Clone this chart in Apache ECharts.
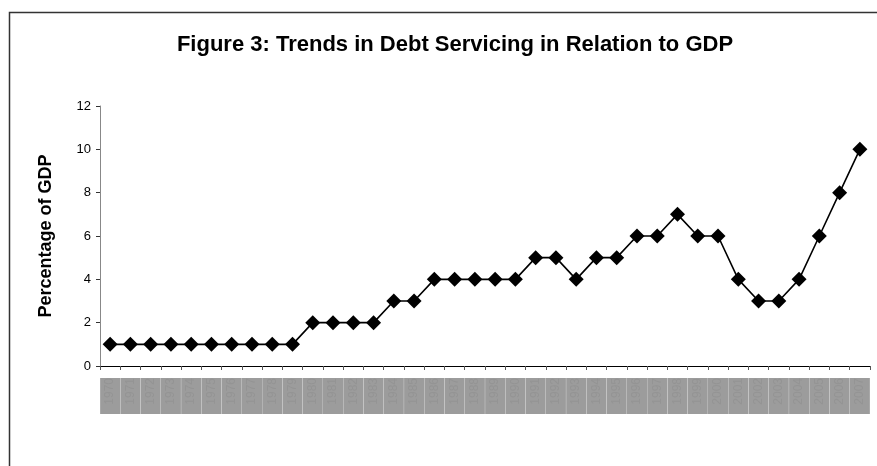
<!DOCTYPE html>
<html>
<head>
<meta charset="utf-8">
<script src="https://cdn.jsdelivr.net/npm/echarts@6/dist/echarts.min.js"></script>
<style>
html,body{margin:0;padding:0;background:#fff;}
#chart{width:877px;height:466px;}
</style>
</head>
<body>
<div id="chart"></div>
<script>
const titleText = 'Figure 3: Trends in Debt Servicing in Relation to GDP';
const yAxisName = 'Percentage of GDP';
const categories = ['1970','1971','1972','1973','1974','1975','1976','1977','1978','1979',
  '1980','1981','1982','1983','1984','1985','1986','1987','1988','1989',
  '1990','1991','1992','1993','1994','1995','1996','1997','1998','1999',
  '2000','2001','2002','2003','2004','2005','2006','2007'];
const values = [1,1,1,1,1,1,1,1,1,1,
  2,2,2,2,3,3,4,4,4,4,
  4,5,5,4,5,5,6,6,7,6,
  6,4,3,3,4,6,8,10];
const yTicks = {min:0, max:12, interval:2};

const chart = echarts.init(document.getElementById('chart'), null, {renderer:'canvas'});
chart.setOption({
  animation:false,
  backgroundColor:'#ffffff',
  graphic:[{
    type:'rect', shape:{x:9.5, y:12.5, width:900, height:500},
    style:{fill:'none', stroke:'#333333', lineWidth:1.5}, silent:true, z:-1
  }],
  title:{
    text:titleText, left:450, top:29, textAlign:'center',
    textStyle:{fontFamily:'Liberation Sans', fontWeight:'bold', fontSize:22, color:'#000'}
  },
  grid:{left:100, right:7, top:106, bottom:100, containLabel:false},
  xAxis:{
    type:'category', data:categories, boundaryGap:true,
    axisLine:{lineStyle:{color:'#000', width:1}},
    axisTick:{show:true, length:4, inside:false, lineStyle:{color:'#555'}},
    axisLabel:{
      interval:0, rotate:90, margin:12, fontFamily:'Liberation Sans', fontSize:12,
      color:'#949494', backgroundColor:'#9c9c9c', width:36, height:20, lineHeight:20
    },
    splitLine:{show:false}
  },
  yAxis:{
    type:'value', min:yTicks.min, max:yTicks.max, interval:yTicks.interval,
    name:yAxisName, nameLocation:'middle', nameGap:45,
    nameTextStyle:{fontFamily:'Liberation Sans', fontWeight:'bold', fontSize:18, color:'#000'},
    axisLine:{show:true, lineStyle:{color:'#888', width:1}},
    axisTick:{show:true, length:4, lineStyle:{color:'#333'}},
    axisLabel:{margin:9, fontFamily:'Liberation Sans', fontSize:13, color:'#000'},
    splitLine:{show:false}
  },
  series:[{
    type:'line', data:values, symbol:'diamond', symbolSize:15,
    itemStyle:{color:'#000'}, lineStyle:{color:'#000', width:1.6}
  }]
});
</script>
</body>
</html>
